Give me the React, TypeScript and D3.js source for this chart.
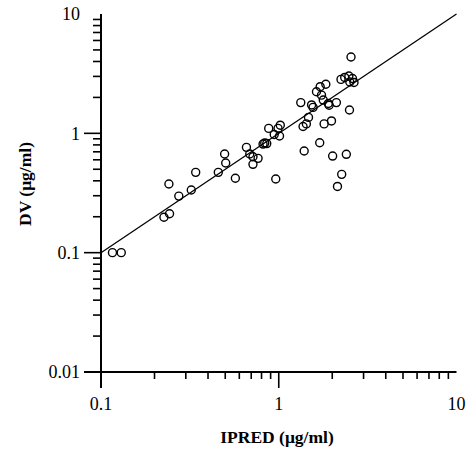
import React from "react";
import * as d3 from "d3";

const ipred = [
  0.116, 0.13, 0.226, 0.243, 0.241, 0.274, 0.322, 0.341, 0.457, 0.496,
  0.503, 0.57, 0.658, 0.687, 0.716, 0.765, 0.716, 0.816, 0.834, 0.856,
  0.878, 0.943, 0.991, 1.02, 1.01, 0.962, 1.33, 1.53, 1.56, 1.63,
  1.71, 1.84, 1.74, 1.78, 1.9, 1.92, 2.11, 2.5, 2.55, 2.24,
  2.35, 2.48, 2.6, 2.65, 2.51, 1.37, 1.43, 1.47, 1.8, 1.98,
  1.7, 1.39, 2.01, 2.4, 2.26, 2.14,
];
const dv = [
  0.1, 0.1, 0.198, 0.212, 0.376, 0.298, 0.335, 0.471, 0.471, 0.671,
  0.564, 0.42, 0.763, 0.671, 0.637, 0.617, 0.55, 0.813, 0.829, 0.821,
  1.1, 0.977, 1.1, 1.17, 0.949, 0.414, 1.81, 1.73, 1.65, 2.23,
  2.46, 2.58, 2.09, 1.9, 1.78, 1.72, 1.81, 1.57, 4.36, 2.83,
  2.94, 3.02, 2.88, 2.67, 2.69, 1.14, 1.2, 1.36, 1.2, 1.27,
  0.834, 0.711, 0.645, 0.667, 0.453, 0.359,
];
const xDomain = [0.1, 10];
const yDomain = [0.01, 10];
const xTickLabels = ["0.1", "1", "10"];
const yTickLabels = ["0.01", "0.1", "1", "10"];
const xTitle = "IPRED (μg/ml)";
const yTitle = "DV (μg/ml)";

export default function App() {
  const W = 469;
  const H = 452;
  const x = d3.scaleLog().domain(xDomain).range([101, 456.5]);
  const y = d3.scaleLog().domain(yDomain).range([372, 14]);
  const x0 = x(xDomain[0]);
  const y0 = y(yDomain[0]);

  const minor = (dom: number[]) => {
    const out: { v: number; major: boolean }[] = [];
    for (let e = Math.round(Math.log10(dom[0])); e < Math.round(Math.log10(dom[1])); e++) {
      for (let m = 1; m < 10; m++) {
        out.push({ v: m * Math.pow(10, e), major: m === 1 });
      }
    }
    return out;
  };
  const xt = minor(xDomain);
  const yt = minor(yDomain);
  const font = "'Liberation Serif', 'Times New Roman', serif";

  const line = d3
    .line<number>()
    .x((d) => x(d))
    .y((d) => y(d));

  return (
    <svg
      width={W}
      height={H}
      style={{ position: "absolute", left: 0, top: 0, background: "#fff" }}
    >
      <rect width={W} height={H} fill="#fff" />
      {xt.map((t, i) =>
        t.v === xDomain[0] ? null : (
          <line
            key={"xt" + i}
            x1={x(t.v)}
            x2={x(t.v)}
            y1={y0}
            y2={y0 + (t.major ? 16 : 7)}
            stroke="#000"
            strokeWidth={1.6}
          />
        )
      )}
      {yt.map((t, i) =>
        t.v === yDomain[0] ? null : (
          <line
            key={"yt" + i}
            x1={x0 - (t.major ? 17 : 8)}
            x2={x0}
            y1={y(t.v)}
            y2={y(t.v)}
            stroke="#000"
            strokeWidth={1.6}
          />
        )
      )}
      <line x1={x0} x2={x0} y1={y(yDomain[1])} y2={y0 + 16} stroke="#000" strokeWidth={2} />
      <line x1={x0 - 17} x2={x(xDomain[1])} y1={y0} y2={y0} stroke="#000" strokeWidth={2} />
      {xTickLabels.map((l) => (
        <text
          key={"xl" + l}
          x={x(+l)}
          y={410}
          textAnchor="middle"
          fontFamily={font}
          fontSize={18}
        >
          {l}
        </text>
      ))}
      {yTickLabels.map((l) => (
        <text
          key={"yl" + l}
          x={80}
          y={y(+l)}
          dy="0.35em"
          textAnchor="end"
          fontFamily={font}
          fontSize={18}
        >
          {l}
        </text>
      ))}
      <path d={line([0.1, 10]) || ""} fill="none" stroke="#000" strokeWidth={1.3} />
      {ipred.map((v, i) => (
        <circle
          key={"p" + i}
          cx={x(v)}
          cy={y(dv[i])}
          r={4}
          fill="none"
          stroke="#000"
          strokeWidth={1.4}
        />
      ))}
      <text
        x={277}
        y={443}
        textAnchor="middle"
        fontFamily={font}
        fontSize={17.5}
        fontWeight="bold"
      >
        {xTitle}
      </text>
      <text
        transform="translate(31,184) rotate(-90)"
        textAnchor="middle"
        fontFamily={font}
        fontSize={17.5}
        fontWeight="bold"
      >
        {yTitle}
      </text>
    </svg>
  );
}
